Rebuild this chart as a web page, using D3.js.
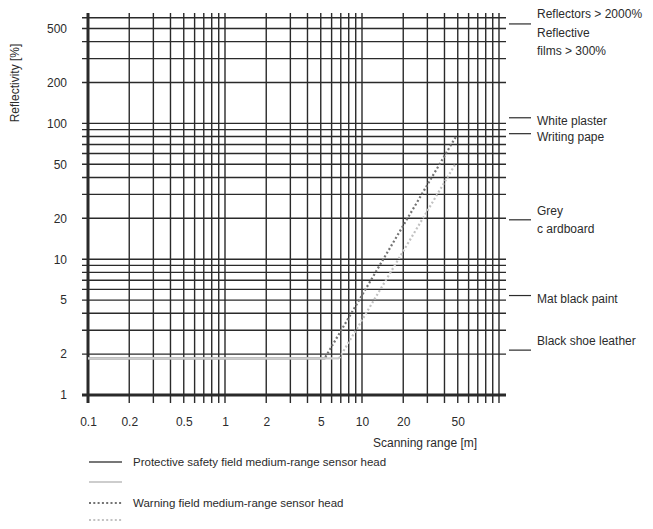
<!DOCTYPE html>
<html>
<head>
<meta charset="utf-8">
<script src="https://cdn.jsdelivr.net/npm/d3@7"></script>
<style>
  body { margin: 0; background: #fff; }
  svg text { font-family: "Liberation Sans", Arial, Helvetica, sans-serif; fill: #2b2b2b; }
</style>
</head>
<body>
<svg width="653" height="529"></svg>
<script>
// tick labels
var xTickValues = [0.1, 0.2, 0.5, 1, 2, 5, 10, 20, 50];
var yTickValues = [1, 2, 5, 10, 20, 50, 100, 200, 500];

// materials on the right side, with their reflectivity [%]
var materialNames = [
    ["Reflectors > 2000%", "Reflective", "films > 300%"],
    ["White plaster"],
    ["Writing pape"],
    ["Grey", "c ardboard"],
    ["Mat black paint"],
    ["Black shoe leather"]
];
var materialValues = [540, 110, 84, 19.5, 5.4, 2.14];

// curves: [scanning range m, reflectivity %]
var protectiveMedium = [[0.1, 1.86], [5.4, 1.86]];
var protectiveOther = [[0.1, 1.86], [6.8, 1.86]];
var warningMedium = [[5.4, 1.9], [48.5, 80]];
var warningOther = [[6.8, 1.86], [48.5, 51]];

var legendLabels = ["Protective safety field medium-range sensor head", "", "Warning field medium-range sensor head", ""];

(function () {
    var svg = d3.select("svg");

    var x = d3.scaleLog().domain([0.1, 100]).range([88, 499]);
    var y = d3.scaleLog().domain([1, 650]).range([395, 13]);

    var gridColor = "#2a2a2a";
    var left = 82, right = 506, top = 13, bottom = 403;

    // grid
    var grid = svg.append("g");
    grid.selectAll(".vline")
        .data(x.ticks())
        .enter().append("line")
        .attr("x1", function(d) { return x(d); })
        .attr("x2", function(d) { return x(d); })
        .attr("y1", top).attr("y2", bottom)
        .attr("stroke", gridColor)
        .attr("stroke-width", function(d) { return d === 0.1 ? 3 : 1.4; });

    grid.selectAll(".hline")
        .data(y.ticks())
        .enter().append("line")
        .attr("x1", left).attr("x2", right)
        .attr("y1", function(d) { return y(d); })
        .attr("y2", function(d) { return y(d); })
        .attr("stroke", gridColor)
        .attr("stroke-width", function(d) { return d === 1 ? 3 : 1.4; });

    // axes labels
    var xAxis = svg.append("g")
        .attr("transform", "translate(0,414)")
        .call(d3.axisBottom(x).tickValues(xTickValues).tickSize(0).tickFormat(d3.format("~g")));
    xAxis.select(".domain").remove();
    xAxis.selectAll("text").style("font-size", "12px");

    var yAxis = svg.append("g")
        .attr("transform", "translate(70,0)")
        .call(d3.axisLeft(y).tickValues(yTickValues).tickSize(0).tickFormat(d3.format("~g")));
    yAxis.select(".domain").remove();
    yAxis.selectAll("text").style("font-size", "12px");

    svg.append("text")
        .attr("x", 373).attr("y", 447)
        .style("font-size", "12px")
        .text("Scanning range [m]");

    svg.append("text")
        .attr("transform", "translate(19,83) rotate(-90)")
        .attr("text-anchor", "middle")
        .style("font-size", "12px")
        .text("Reflectivity [%]");

    // curves
    var line = d3.line()
        .x(function(d) { return x(d[0]); })
        .y(function(d) { return y(d[1]); });

    var styles = [
        { data: protectiveMedium, color: "#777777", dash: null },
        { data: protectiveOther, color: "#cdcdcd", dash: null },
        { data: warningMedium, color: "#737373", dash: "2,2.3" },
        { data: warningOther, color: "#c2c2c2", dash: "2,2.3" }
    ];

    styles.forEach(function(s) {
        svg.append("path")
            .datum(s.data)
            .attr("d", line)
            .attr("fill", "none")
            .attr("stroke", s.color)
            .attr("stroke-width", 2.2)
            .attr("stroke-dasharray", s.dash);
    });

    // material labels on the right
    var labelDy = [-10, 3, 3, -9, 3, -9];
    var mat = svg.selectAll(".material")
        .data(materialValues)
        .enter().append("g")
        .attr("class", "material")
        .attr("transform", function(d) { return "translate(0," + y(d) + ")"; });

    mat.append("line")
        .attr("x1", 509).attr("x2", 531)
        .attr("stroke", "#2b2b2b").attr("stroke-width", 1.2);

    mat.each(function(d, i) {
        var g = d3.select(this);
        materialNames[i].forEach(function(t, j) {
            g.append("text")
                .attr("x", 537)
                .attr("y", labelDy[i] + j * 18.5)
                .attr("dy", "0.35em")
                .style("font-size", "12px")
                .text(t);
        });
    });

    // legend
    var legend = svg.selectAll(".legend")
        .data(legendLabels)
        .enter().append("g")
        .attr("class", "legend")
        .attr("transform", function(d, i) { return "translate(89," + [462, 482, 503, 520][i] + ")"; });

    legend.append("line")
        .attr("x1", 0).attr("x2", 33)
        .attr("stroke", function(d, i) { return styles[i].color; })
        .attr("stroke-width", 2.2)
        .attr("stroke-dasharray", function(d, i) { return styles[i].dash; });

    legend.append("text")
        .attr("x", 44)
        .attr("dy", "0.35em")
        .style("font-size", "11.5px")
        .text(function(d) { return d; });
})();
</script>
</body>
</html>
